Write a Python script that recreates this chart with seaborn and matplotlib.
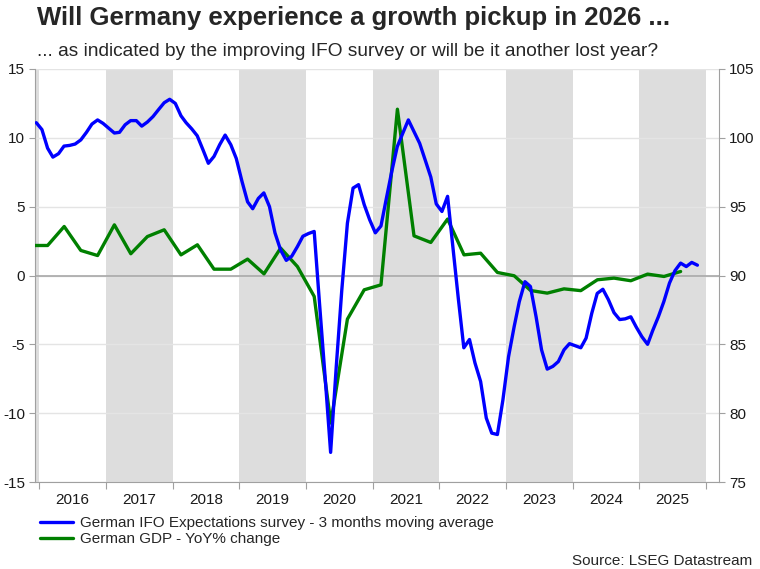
import numpy as np
import pandas as pd
import matplotlib
matplotlib.use("Agg")
import matplotlib.pyplot as plt
import matplotlib.dates as mdates
import seaborn as sns

# -----------------------------------------------------------------------------
# data

# IFO expectations, 3 month moving average, monthly Dec 2015 .. Nov 2025 (right axis)
ifo = [101.1, 100.6, 99.25, 98.6, 98.85, 99.4, 99.45, 99.55, 99.85, 100.4, 101.0, 101.3,
       101.05, 100.7, 100.35, 100.4, 100.95, 101.25, 101.25, 100.85, 101.15, 101.55, 102.05, 102.55,
       102.8, 102.5, 101.6, 101.1, 100.65, 100.15, 99.15, 98.15, 98.65, 99.5, 100.2, 99.5,
       98.5, 96.85, 95.35, 94.85, 95.6, 96.0, 95.0, 93.1, 91.85, 91.1, 91.4, 92.1,
       92.85, 93.05, 93.2, 88.0, 82.6, 77.15, 83.4, 88.9, 93.8, 96.35, 96.6, 95.15,
       94.05, 93.1, 93.6, 95.5, 97.55, 99.35, 100.35, 101.3, 100.45, 99.6, 98.4, 97.15,
       95.2, 94.65, 95.75, 92.2, 88.3, 84.75, 85.35, 83.65, 82.3, 79.65, 78.55, 78.45,
       80.95, 84.1, 86.3, 88.1, 89.55, 89.2, 87.0, 84.6, 83.2, 83.4, 83.75, 84.6,
       85.05, 84.9, 84.75, 85.45, 87.25, 88.7, 89.0, 88.25, 87.3, 86.8, 86.85, 87.0,
       86.25, 85.55, 85.0, 86.0, 87.0, 88.1, 89.45, 90.35, 90.9, 90.65, 90.95, 90.75]

# German GDP YoY %, quarterly 2015Q4 .. 2025Q3 (left axis)
gdp = [2.18, 2.18, 3.56, 1.82, 1.45, 3.68, 1.58, 2.83, 3.32, 1.5,
       2.23, 0.46, 0.46, 1.19, 0.12, 1.99, 0.65, -1.52, -10.72, -3.17,
       -1.04, -0.68, 12.08, 2.88, 2.4, 4.1, 1.5, 1.62, 0.22, -0.02,
       -1.09, -1.28, -0.97, -1.1, -0.31, -0.19, -0.38, 0.1, -0.07, 0.29]

shaded_years = [2015, 2017, 2019, 2021, 2023, 2025]

ifo_label = "German IFO Expectations survey - 3 months moving average"
gdp_label = "German GDP - YoY% change"
title = "Will Germany experience a growth pickup in 2026 ..."
subtitle = "... as indicated by the improving IFO survey or will be it another lost year?"
source = "Source: LSEG Datastream"

ifo_dates = pd.date_range("2015-12-01", periods=len(ifo), freq="MS") + pd.Timedelta(days=14)
gdp_dates = pd.date_range("2015-10-01", periods=len(gdp), freq="QS") + pd.Timedelta(days=45)

# -----------------------------------------------------------------------------
# style

sns.set_style("white")
plt.rcParams['font.family'] = ['Liberation Sans', 'DejaVu Sans']
plt.rcParams['font.size'] = 11
plt.rcParams['axes.unicode_minus'] = False

fig = plt.figure(figsize=(7.6, 5.69), dpi=100)
ax = fig.add_axes([35 / 760, 1 - 482 / 569, (719.3 - 35) / 760, (482 - 69) / 569])
ax2 = ax.twinx()

grey = "#a0a0a0"

for yr in shaded_years:
    ax.axvspan(pd.Timestamp(yr, 1, 1), pd.Timestamp(yr + 1, 1, 1), color="#dddddd", lw=0, zorder=0)

ax.set_axisbelow(True)
ax.yaxis.grid(True, color="#e4e4e4", lw=1)
ax.axhline(0, color="#a8a8a8", lw=1.2, zorder=1)

# -----------------------------------------------------------------------------
# lines

sns.lineplot(x=gdp_dates, y=gdp, ax=ax, color="#008000", linewidth=2.4, label=gdp_label, zorder=3)
sns.lineplot(x=ifo_dates, y=ifo, ax=ax2, color="#0000ff", linewidth=2.4, label=ifo_label, zorder=3)

h1, l1 = ax.get_legend_handles_labels()
h2, l2 = ax2.get_legend_handles_labels()
ax.get_legend().remove()
ax2.get_legend().remove()

# -----------------------------------------------------------------------------
# axes

ax.set_xlim(pd.Timestamp("2015-12-08"), pd.Timestamp("2026-03-15"))
ax.set_ylim(-15, 15)
ax2.set_ylim(75, 105)
ax.set_yticks(np.arange(-15, 16, 5))
ax2.set_yticks(np.arange(75, 106, 5))
ax.set_xlabel("")
ax.set_ylabel("")
ax2.set_ylabel("")

ax.xaxis.set_major_locator(mdates.YearLocator(1))
ax.xaxis.set_major_formatter(plt.NullFormatter())
ax.xaxis.set_minor_locator(mdates.MonthLocator(bymonth=7, bymonthday=1))
ax.xaxis.set_minor_formatter(mdates.DateFormatter("%Y"))
ax.tick_params(axis="x", which="major", length=5, color=grey, direction="out", bottom=True)
ax.tick_params(axis="x", which="minor", length=0, pad=8, labelsize=11, labelcolor="#1a1a1a", bottom=True)
ax.tick_params(axis="y", length=4, color=grey, direction="out", pad=3, labelsize=11,
               labelcolor="#1a1a1a", left=True)
ax2.tick_params(axis="y", length=4, color=grey, direction="out", pad=3, labelsize=11,
                labelcolor="#1a1a1a", right=True)

for s in ["top", "right"]:
    ax.spines[s].set_visible(False)
for s in ["top", "left", "bottom"]:
    ax2.spines[s].set_visible(False)
ax.spines["left"].set_color(grey)
ax.spines["bottom"].set_color(grey)
ax2.spines["right"].set_color(grey)

# -----------------------------------------------------------------------------
# texts and legend

fig.text(37 / 760, 1 - 25 / 569, title, fontsize=18.5, fontweight="bold", va="baseline", ha="left")
fig.text(37 / 760, 1 - 56 / 569, subtitle, fontsize=13.8, va="baseline", ha="left")
fig.text(752 / 760, 1 - 565 / 569, source, fontsize=11, va="baseline", ha="right")

fig.legend(h2 + h1, l2 + l1, loc="upper left", bbox_to_anchor=(40 / 760, 1 - 516 / 569),
           frameon=False, fontsize=11, handlelength=2.15, handletextpad=0.45,
           labelspacing=0.15, borderaxespad=0, borderpad=0)

fig.savefig("out.png", dpi=100)
